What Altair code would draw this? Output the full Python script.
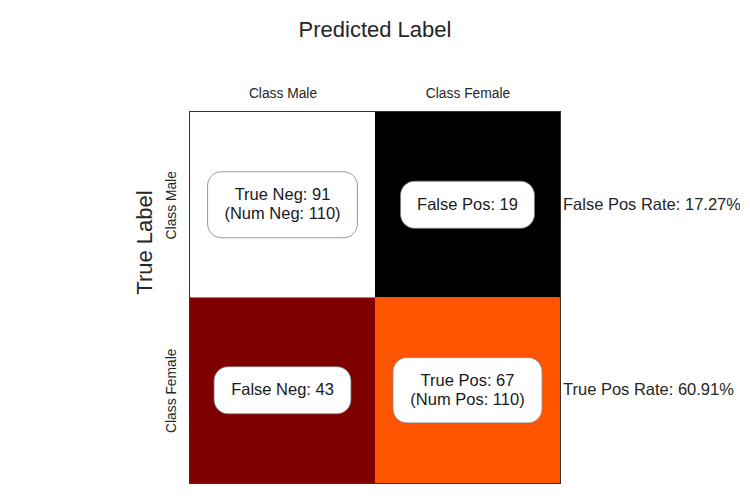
import altair as alt
import pandas as pd

classes = ["Class Male", "Class Female"]
# confusion matrix rows = true label, cols = predicted label
cell_values = [[91, 19], [43, 67]]
cell_texts = [["True Neg: 91\n(Num Neg: 110)", "False Pos: 19"],
              ["False Neg: 43", "True Pos: 67\n(Num Pos: 110)"]]
rate_texts = ["False Pos Rate: 17.27%", "True Pos Rate: 60.91%"]

# box half sizes (in cell units) per cell, styling
box_half_w = [[0.405, 0.362], [0.37, 0.403]]
box_half_h = [[0.178, 0.127], [0.127, 0.176]]

rows = []
for r in range(2):
    for c in range(2):
        lines = cell_texts[r][c].split("\n")
        rows.append({
            "col": c, "row": r,
            "x0": c, "x1": c + 1,
            "y0": 2 - r - 1, "y1": 2 - r,
            "cx": c + 0.5, "cy": 2 - r - 0.5,
            "bx0": c + 0.5 - box_half_w[r][c], "bx1": c + 0.5 + box_half_w[r][c],
            "by0": 2 - r - 0.5 - box_half_h[r][c], "by1": 2 - r - 0.5 + box_half_h[r][c],
            "value": cell_values[r][c],
            "label": lines,
            "nlines": len(lines),
        })
df = pd.DataFrame(rows)
rate_df = pd.DataFrame({"y": [1.5, 0.5], "x": [2, 2], "text": rate_texts})

FONT = "Liberation Sans"
TXT = "#262626"

xscale = alt.Scale(domain=[0, 2], nice=False, zero=False)
yscale = alt.Scale(domain=[0, 2], nice=False, zero=False)

x_label_expr = f"datum.value < 1 ? '{classes[0]}' : '{classes[1]}'"
y_label_expr = f"datum.value > 1 ? '{classes[0]}' : '{classes[1]}'"

color_scale = alt.Scale(domain=[19, 55, 67, 73, 91],
                        range=["#000000", "#bf0000", "#ff5500", "#ff8000", "#ffffff"],
                        interpolate="rgb")

cells = alt.Chart(df).mark_rect(strokeWidth=0).encode(
    x=alt.X("x0:Q", scale=xscale,
            axis=alt.Axis(orient="top", values=[0.5, 1.5], labelExpr=x_label_expr,
                          ticks=False, domain=False, grid=False, title=None,
                          labelFontSize=13.8, labelColor=TXT, labelFont=FONT,
                          labelPadding=12)),
    x2="x1:Q",
    y=alt.Y("y0:Q", scale=yscale,
            axis=alt.Axis(orient="left", values=[0.5, 1.5], labelExpr=y_label_expr,
                          ticks=False, domain=False, grid=False, title="True Label",
                          labelAngle=-90, labelAlign="center", labelBaseline="bottom",
                          labelFontSize=13.8, labelColor=TXT, labelFont=FONT,
                          labelPadding=12, titleFontSize=22, titleFontWeight="normal",
                          titleColor=TXT, titleFont=FONT, titlePadding=8, titleY=130)),
    y2="y1:Q",
    color=alt.Color("value:Q", scale=color_scale, legend=None),
)

boxes = alt.Chart(df).mark_rect(fill="white", stroke="#7f7f7f", strokeWidth=0.8,
                                cornerRadius=14).encode(
    x="bx0:Q", x2="bx1:Q", y="by0:Q", y2="by1:Q"
)

texts1 = alt.Chart(df).transform_filter("datum.nlines == 1").mark_text(
    fontSize=16.5, font=FONT, color="#1a1a1a", baseline="middle"
).encode(x="cx:Q", y="cy:Q", text="label")

texts2 = alt.Chart(df).transform_filter("datum.nlines == 2").mark_text(
    fontSize=16.5, font=FONT, color="#1a1a1a", baseline="middle", lineHeight=19, dy=-9.5
).encode(x="cx:Q", y="cy:Q", text="label")

rates = alt.Chart(rate_df).mark_text(fontSize=16.5, font=FONT, color=TXT, align="left",
                                     dx=3, baseline="middle").encode(
    x="x:Q", y="y:Q", text="text:N"
)

chart = alt.layer(cells, boxes, texts1, texts2, rates).properties(
    width=370, height=371,
    title=alt.TitleParams("Predicted Label", fontSize=22, fontWeight="normal",
                          color=TXT, font=FONT, offset=44),
    autosize=alt.AutoSizeParams(type="none"),
    padding={"left": 182, "top": 104, "right": 180, "bottom": 8},
).configure_view(stroke="#333333", strokeWidth=2)

chart.save("out.html", embed_options={"renderer": "svg", "actions": False})
